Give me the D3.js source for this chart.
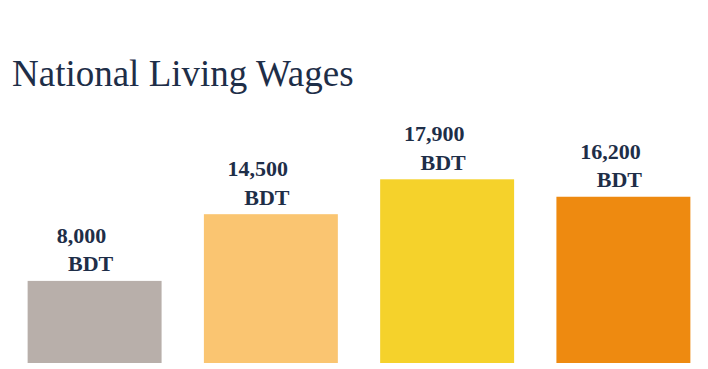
<!DOCTYPE html>
<html>
<head>
<meta charset="utf-8">
<script src="https://cdn.jsdelivr.net/npm/d3@7"></script>
<style>
  body { margin: 0; background: #fff; }
  svg { display: block; }
</style>
</head>
<body>
<div id="chart"></div>
<script>
// data
var categories = ["A", "B", "C", "D"];
var wages = [8000, 14500, 17900, 16200];
var labels = ["8,000", "14,500", "17,900", "16,200"];
var unit = "BDT";
var colors = ["#b8afaa", "#fac571", "#f5d22b", "#ee8a10"];

var svgWidth = 708;
var svgHeight = 369;

var baseline = 363;

var svg = d3.select("#chart")
  .append("svg")
  .attr("width", svgWidth)
  .attr("height", svgHeight);

// title
svg.append("text")
  .attr("x", 12)
  .attr("y", 86)
  .attr("font-family", "Liberation Serif, serif")
  .attr("font-size", "37px")
  .attr("fill", "#1e2e48")
  .text("National Living Wages");

// scales
var xScale = d3.scaleBand()
  .domain(categories)
  .range([10, 708])
  .paddingInner(0.24)
  .paddingOuter(0.1);

var yScale = d3.scaleLinear()
  .domain([0, 17900])
  .range([baseline, 179.3]);

var data = categories.map((c, i) => ({ cat: c, value: wages[i], label: labels[i], color: colors[i] }));

// bars
svg.append("g")
  .selectAll("rect")
  .data(data)
  .enter()
  .append("rect")
  .attr("x", d => xScale(d.cat))
  .attr("y", d => yScale(d.value))
  .attr("width", xScale.bandwidth())
  .attr("height", d => baseline - yScale(d.value))
  .attr("fill", d => d.color);

// value labels (two lines)
var labelGroup = svg.append("g")
  .attr("font-family", "Liberation Serif, serif")
  .attr("font-weight", "bold")
  .attr("font-size", "22px")
  .attr("fill", "#1e2e48")
  .attr("text-anchor", "middle");

labelGroup.selectAll("text.num")
  .data(data)
  .enter()
  .append("text")
  .attr("class", "num")
  .attr("x", d => xScale(d.cat) + xScale.bandwidth() / 2 - 13)
  .attr("y", d => yScale(d.value) - 38)
  .text(d => d.label);

labelGroup.selectAll("text.unit")
  .data(data)
  .enter()
  .append("text")
  .attr("class", "unit")
  .attr("x", d => xScale(d.cat) + xScale.bandwidth() / 2 - 4)
  .attr("y", d => yScale(d.value) - 9.5)
  .text(unit);
</script>
</body>
</html>
